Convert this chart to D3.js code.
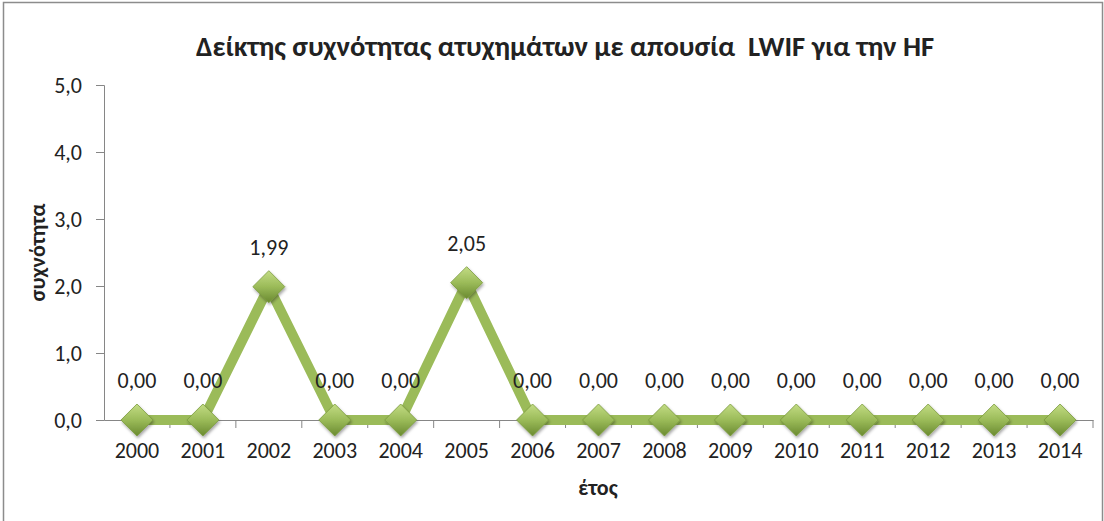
<!DOCTYPE html>
<html>
<head>
<meta charset="utf-8">
<script src="https://cdn.jsdelivr.net/npm/d3@7/dist/d3.min.js"></script>
<style>
  body { margin: 0; background: #fff; }
  text { font-family: Carlito, Calibri, "Open Sans", sans-serif; fill: #222; }
</style>
</head>
<body>
<svg id="chart"></svg>
<script>
const years = ["2000", "2001", "2002", "2003", "2004", "2005", "2006", "2007",
  "2008", "2009", "2010", "2011", "2012", "2013", "2014"];
const rates = [0, 0, 1.99, 0, 0, 2.05, 0, 0, 0, 0, 0, 0, 0, 0, 0];
const yTicks = [0, 1, 2, 3, 4, 5];

const svgWidth = 1104, svgHeight = 521;
const margin = { top: 85, right: 11, bottom: 101, left: 104 };
const lineColor = "#9bbb59";
const axisColor = "#868686";

const svg = d3.select("#chart")
  .attr("width", svgWidth)
  .attr("height", svgHeight);

// chart frame
svg.append("rect")
  .attr("x", 3.5).attr("y", 2.5)
  .attr("width", svgWidth - 5).attr("height", svgHeight)
  .attr("fill", "none")
  .attr("stroke", "#8c8c8c")
  .attr("stroke-width", 1.5);

const xScale = d3.scaleBand()
  .domain(years)
  .range([margin.left, svgWidth - margin.right]);

const yScale = d3.scaleLinear()
  .domain([0, 5])
  .range([svgHeight - margin.bottom, margin.top]);

const defs = svg.append("defs");
const grad = defs.append("linearGradient")
  .attr("id", "diamondFill")
  .attr("x1", "0").attr("y1", "0").attr("x2", "0").attr("y2", "1");
grad.append("stop").attr("offset", "0%").attr("stop-color", "#c3dc84");
grad.append("stop").attr("offset", "50%").attr("stop-color", "#9bbb59");
grad.append("stop").attr("offset", "100%").attr("stop-color", "#6a8a30");

const shadow = defs.append("filter").attr("id", "shadow")
  .attr("x", "-50%").attr("y", "-50%").attr("width", "200%").attr("height", "200%");
shadow.append("feDropShadow")
  .attr("dx", 1).attr("dy", 2).attr("stdDeviation", 1.5)
  .attr("flood-color", "#000").attr("flood-opacity", 0.35);

// y axis
const yAxis = d3.axisLeft(yScale)
  .tickValues(yTicks)
  .tickSize(8)
  .tickFormat(d => d3.format(".1f")(d).replace(".", ","));

const gy = svg.append("g")
  .attr("transform", `translate(${margin.left}, 0)`)
  .call(yAxis);
gy.selectAll("path, line").attr("stroke", axisColor);
gy.selectAll("text").attr("font-size", 22).attr("x", -22).attr("fill", "#222");

// x axis
const xAxis = d3.axisBottom(xScale).tickSize(0).tickPadding(22);
const gx = svg.append("g")
  .attr("transform", `translate(0, ${yScale(0)})`)
  .call(xAxis);
gx.select(".domain").attr("stroke", axisColor);
gx.selectAll("text").attr("font-size", 22).attr("fill", "#222");

// tick marks between categories
svg.append("g")
  .selectAll("line")
  .data(years)
  .enter()
  .append("line")
  .attr("x1", d => xScale(d) + xScale.bandwidth())
  .attr("x2", d => xScale(d) + xScale.bandwidth())
  .attr("y1", yScale(0))
  .attr("y2", yScale(0) + 8)
  .attr("stroke", axisColor);

const cx = d => xScale(d) + xScale.bandwidth() / 2;

// line
const line = d3.line()
  .x((d, i) => cx(years[i]))
  .y(d => yScale(d));

svg.append("path")
  .datum(rates)
  .attr("d", line)
  .attr("fill", "none")
  .attr("stroke", lineColor)
  .attr("stroke-width", 10)
  .attr("stroke-linejoin", "miter");

// diamond markers
const r = 16;
svg.append("g")
  .selectAll("path")
  .data(rates)
  .enter()
  .append("path")
  .attr("d", `M0,${-r}L${r},0L0,${r}L${-r},0Z`)
  .attr("transform", (d, i) => `translate(${cx(years[i])}, ${yScale(d)})`)
  .attr("fill", "url(#diamondFill)")
  .attr("stroke", "#7a9a3c")
  .attr("stroke-width", 0.8)
  .attr("filter", "url(#shadow)");

// data labels
svg.append("g")
  .selectAll("text")
  .data(rates)
  .enter()
  .append("text")
  .attr("x", (d, i) => cx(years[i]))
  .attr("y", d => yScale(d) - 32)
  .attr("text-anchor", "middle")
  .attr("font-size", 22)
  .text(d => d3.format(".2f")(d).replace(".", ","));

// title
svg.append("text")
  .attr("x", 565)
  .attr("y", 56)
  .attr("text-anchor", "middle")
  .attr("font-size", 28.6)
  .attr("font-weight", "bold")
  .style("white-space", "pre")
  .text("Δείκτης συχνότητας ατυχημάτων με απουσία  LWIF για την HF");

// axis titles
svg.append("text")
  .attr("x", 598)
  .attr("y", 495)
  .attr("text-anchor", "middle")
  .attr("font-size", 22)
  .attr("font-weight", "bold")
  .text("έτος");

svg.append("text")
  .attr("transform", `translate(45, ${yScale(2.5)}) rotate(-90)`)
  .attr("text-anchor", "middle")
  .attr("font-size", 22)
  .attr("font-weight", "bold")
  .text("συχνότητα");
</script>
</body>
</html>
